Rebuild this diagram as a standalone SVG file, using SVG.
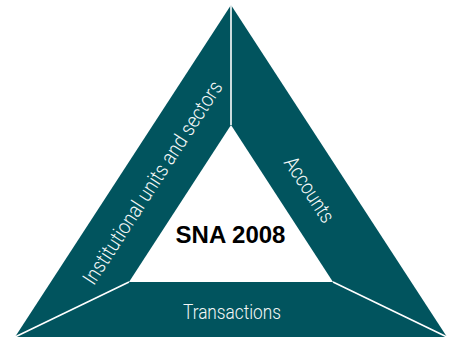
<svg xmlns="http://www.w3.org/2000/svg" width="454" height="340" viewBox="0 0 454 340">
  <style>
    .seg { fill: #01545E; }
    .div { stroke: #FFFFFF; stroke-width: 1.6; fill: none; }
    .lbl { fill: #F4F8F8; font-family: Roboto, "Liberation Sans Narrow", "Liberation Sans", sans-serif; font-size: 21px; font-weight: 300; text-anchor: middle; }
    .title { fill: #000000; font-family: "Liberation Sans", Arial, sans-serif; font-size: 24px; font-weight: bold; text-anchor: middle; }
  </style>
  <rect width="454" height="340" fill="#FFFFFF"/>
  <g id="institutional-units-and-sectors">
    <polygon class="seg" points="231,5 15,337 129,282 231,125"/>
    <text class="lbl" transform="translate(158.5,186.5) rotate(-57)" textLength="238" lengthAdjust="spacingAndGlyphs">Institutional units and sectors</text>
  </g>
  <g id="accounts">
    <polygon class="seg" points="231,5 447,337 333,282 231,125"/>
    <text class="lbl" transform="translate(303.5,193.5) rotate(57)" textLength="74" lengthAdjust="spacingAndGlyphs">Accounts</text>
  </g>
  <g id="transactions">
    <polygon class="seg" points="15,337 447,337 333,282 129,282"/>
    <text class="lbl" x="232" y="319" textLength="98" lengthAdjust="spacingAndGlyphs">Transactions</text>
  </g>
  <g id="sna-2008">
    <text class="title" x="230.5" y="243">SNA 2008</text>
  </g>
  <g id="dividers">
    <line class="div" x1="231" y1="5" x2="231" y2="125"/>
    <line class="div" x1="15" y1="337" x2="129" y2="282"/>
    <line class="div" x1="447" y1="337" x2="333" y2="282"/>
  </g>
</svg>
